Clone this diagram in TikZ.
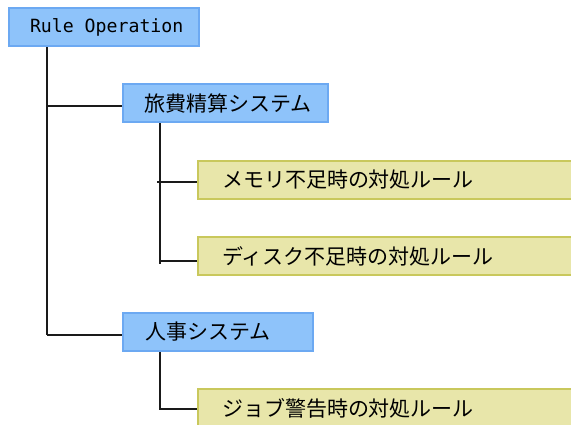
\documentclass[tikz,border=0pt]{standalone}
\usepackage{fontspec}
\newfontfamily\jp{Noto Sans CJK JP}
\newfontfamily\mono{DejaVu Sans Mono}
\definecolor{bluefill}{HTML}{8EC3FA}
\definecolor{blueline}{HTML}{6CA9F2}
\definecolor{yelfill}{HTML}{E8E6AA}
\definecolor{yelline}{HTML}{C9C85C}
\definecolor{conn}{HTML}{1A1A1A}
\begin{document}
\begin{tikzpicture}[x=1pt,y=-1pt,
  bluebox/.style={draw=blueline,fill=bluefill,line width=2pt,rectangle,anchor=north west,
    minimum height=38pt,inner ysep=0pt,align=left},
  yelbox/.style={draw=yelline,fill=yelfill,line width=2pt,rectangle,anchor=north west,
    minimum height=38pt,inner ysep=0pt,align=left},
  connector/.style={draw=conn,line width=2pt}]
\useasboundingbox (0,0) rectangle (571,424);
\clip (0,0) rectangle (571,424);
\node[bluebox,minimum width=190pt,inner xsep=11pt,text width=168pt] (root) at (8,7)
  {\fontsize{18.2}{20}\selectfont\mono\hspace*{10pt}Rule\hspace{0.6em}Operation};
\node[bluebox,minimum width=205pt,inner xsep=21pt,text width=163pt] (sys1) at (122,83)
  {\fontsize{21}{24}\selectfont\jp 旅費精算システム};
\node[bluebox,minimum width=190pt,inner xsep=22pt,text width=146pt] (sys2) at (122,312)
  {\fontsize{21}{24}\selectfont\jp 人事システム};
\node[yelbox,minimum width=390pt,inner xsep=24pt,text width=342pt] (r1) at (197,160)
  {\fontsize{21}{24}\selectfont\jp メモリ不足時の対処ルール};
\node[yelbox,minimum width=390pt,inner xsep=24pt,text width=342pt] (r2) at (197,236)
  {\fontsize{21}{24}\selectfont\jp ディスク不足時の対処ルール};
\node[yelbox,minimum width=390pt,inner xsep=24pt,text width=342pt] (r3) at (197,388)
  {\fontsize{21}{24}\selectfont\jp ジョブ警告時の対処ルール};
% connectors
\coordinate (rootdown) at ([xshift=39pt]root.south west);
\coordinate (rootend) at (47,335);
\draw[connector] (rootdown) -- (rootend);
\draw[connector] (47,106) -- (sys1.west |- 0,106);
\draw[connector] (rootend) -- (sys2.west |- rootend);
\coordinate (s1down) at ([xshift=38pt]sys1.south west);
\coordinate (s1end) at (160,264);
\draw[connector] (s1down) -- (s1end);
\coordinate (r1left) at (157,182);
\draw[connector] (r1left) -- (r1.west |- r1left);
\coordinate (r2left) at (160,261);
\draw[connector] (r2left) -- (r2.west |- r2left);
\coordinate (s2down) at ([xshift=38pt]sys2.south west);
\coordinate (s2end) at (160,409);
\draw[connector] (s2down) -- (s2end) -- (r3.west |- s2end);
\end{tikzpicture}
\end{document}
